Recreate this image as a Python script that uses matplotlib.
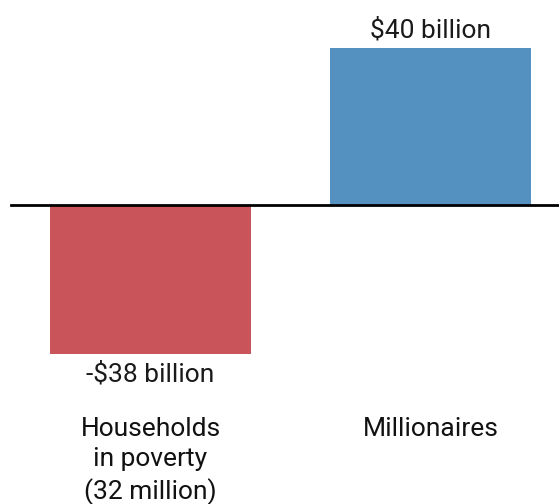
import matplotlib
matplotlib.use("Agg")
import matplotlib.pyplot as plt
from matplotlib import font_manager

# ============================================================
# DATA
# ============================================================

categories = ["Households\nin poverty\n(32 million)", "Millionaires"]
values = [-38, 40]
value_labels = ["-$38 billion", "$40 billion"]
colors = ["#c95459", "#5490c0"]

# ============================================================
# FONT
# ============================================================

names = {f.name for f in font_manager.fontManager.ttflist}
family = "Liberation Sans Narrow" if "Liberation Sans Narrow" in names else "Roboto"
plt.rcParams["font.family"] = [family, "DejaVu Sans"]

# ============================================================
# PLOT
# ============================================================

fig = plt.figure(figsize=(5.59, 5.04), dpi=100)
ax = fig.add_axes([0, 0, 1, 1])

x = list(range(len(categories)))
ax.bar(x, values, width=0.718, color=colors)

ax.set_xlim(-0.5375, 1.459)
ax.set_ylim(-76.2, 52.2)
ax.axhline(0, xmin=11 / 559, xmax=1, color="black", linewidth=2)

for xi, v, lab in zip(x, values, value_labels):
    if v >= 0:
        ax.annotate(lab, (xi, v), xytext=(0, 4), textcoords="offset points",
                    ha="center", va="bottom", fontsize=19, color="#1a1a1a")
    else:
        ax.annotate(lab, (xi, v), xytext=(0, -6), textcoords="offset points",
                    ha="center", va="top", fontsize=19, color="#1a1a1a")

for xi, cat in zip(x, categories):
    ax.text(xi, -54.1, cat, ha="center", va="top", fontsize=19,
            color="#111111", linespacing=1.32)

ax.axis("off")

fig.savefig("out.png", dpi=100)
